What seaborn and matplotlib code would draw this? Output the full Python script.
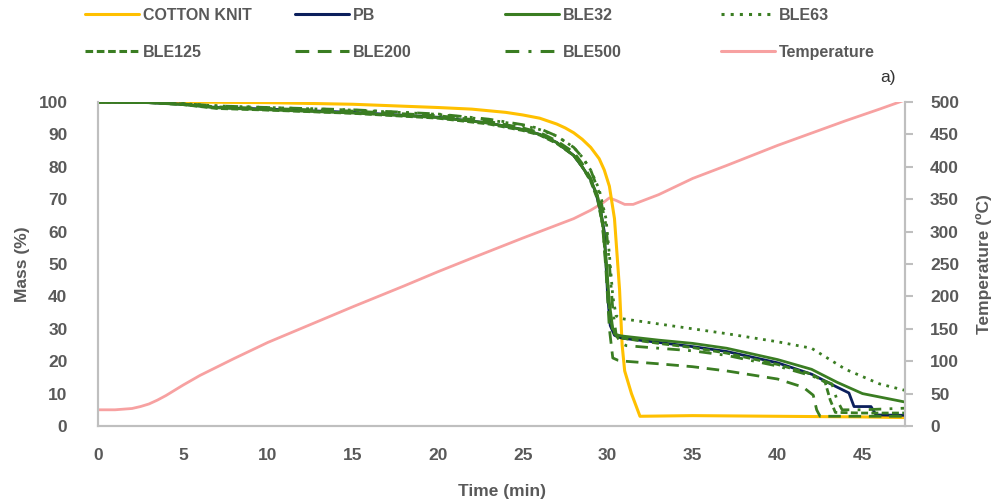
import numpy as np
import pandas as pd
import matplotlib
matplotlib.use("Agg")
import matplotlib.pyplot as plt
import seaborn as sns
from matplotlib.lines import Line2D

# ---------------- data ----------------
cotton_t = [0, 5, 10, 15, 20, 22, 24, 25, 26, 27, 27.5, 28, 28.5, 29, 29.5, 29.8, 30.1, 30.4, 30.7, 30.85, 31.0, 31.4, 31.9, 35, 40, 45, 47.5]
cotton_m = [100, 100, 99.8, 99.3, 98.3, 97.8, 96.8, 96, 95, 93.2, 92, 90.5, 88.5, 86, 82.5, 79, 74, 64, 42, 25, 17, 10, 3, 3.2, 3, 2.8, 2.6]

pb_t = [0, 3, 5, 7, 10, 15, 20, 23, 25, 26, 27, 28, 28.5, 29, 29.3, 29.6, 29.8, 30.0, 30.15, 30.4, 30.7, 31, 33, 35, 37, 40, 42, 43.5, 44.2, 44.5, 45.5, 45.8, 47.5]
pb_m = [100, 99.8, 99.3, 98.3, 97.8, 96.8, 95.3, 93.5, 91.5, 90, 87.5, 83.5, 80, 76, 72, 66, 60, 40, 31, 28, 27.3, 27, 25.8, 24.5, 23, 19.5, 16, 12, 10.2, 6, 6, 3.4, 3.3]

ble32_t = [0, 3, 5, 7, 10, 15, 20, 23, 25, 26, 27, 28, 28.5, 29, 29.4, 29.7, 29.9, 30.1, 30.3, 30.5, 30.8, 33, 35, 37, 40, 42, 43.5, 45, 47.5]
ble32_m = [100, 99.8, 99.2, 98.2, 97.6, 96.6, 95.2, 93.5, 91.5, 90, 87.5, 83.5, 80, 76, 71, 63, 52, 38, 30, 28.2, 27.8, 26.5, 25.5, 24, 20.5, 17.5, 13.5, 10, 7.4]

ble63_t = [0, 3, 5, 7, 10, 15, 20, 23, 25, 26, 27, 28, 28.5, 29, 29.5, 29.9, 30.1, 30.3, 30.5, 30.7, 31, 33, 35, 37, 40, 42, 44, 46, 47.5]
ble63_m = [100, 99.9, 99.5, 98.8, 98.3, 97.5, 96.2, 94.5, 92.8, 91.5, 89.5, 86, 83, 79, 73, 64, 53, 40, 34, 33.3, 33, 31.5, 30, 28.5, 26, 24, 17.5, 13, 11]

ble125_t = [0, 3, 5, 7, 10, 15, 20, 23, 25, 26, 27, 28, 28.5, 29, 29.4, 29.7, 29.9, 30.1, 30.3, 30.6, 31, 33, 35, 37, 40, 42, 42.8, 43.1, 43.4, 45, 47.5]
ble125_m = [100, 99.8, 99.2, 98, 97.5, 96.5, 95, 93.2, 91.2, 89.8, 87.2, 83.5, 80, 75.5, 70, 62, 50, 36, 29, 27.5, 27, 25.5, 24.2, 22.5, 19, 16, 13.5, 8, 4.2, 4, 4]

ble200_t = [0, 3, 5, 7, 10, 15, 20, 23, 25, 26, 27, 28, 28.5, 29, 29.4, 29.7, 29.9, 30.1, 30.3, 30.6, 31, 33, 35, 37, 40, 41.5, 42.1, 42.3, 42.5, 45, 47.5]
ble200_m = [100, 99.9, 99.4, 98.5, 98, 97.2, 95.8, 94, 92, 90.6, 88, 84.5, 81, 76.5, 71, 62, 48, 30, 21, 20.3, 20, 19.2, 18.3, 17, 14.5, 12, 9.5, 5, 3, 3, 3]

ble500_t = [0, 3, 5, 7, 10, 15, 20, 23, 25, 26, 27, 28, 28.5, 29, 29.5, 29.9, 30.1, 30.3, 30.5, 30.8, 31.1, 33, 35, 37, 40, 42, 43.2, 43.5, 43.8, 45, 47.5]
ble500_m = [100, 99.9, 99.5, 98.8, 98.3, 97.6, 96.3, 94.7, 93, 91.8, 89.5, 86, 83, 79, 72, 62, 50, 36, 28, 25.5, 24.8, 24, 23.2, 21.8, 18.5, 15.5, 13, 8, 5, 5, 5.5]

temp_t = [0, 1, 2, 2.5, 3, 3.5, 4, 5, 6, 8, 10, 12, 15, 18, 20, 22, 25, 27, 28, 29, 29.7, 30.1, 30.5, 31, 31.5, 32, 33, 35, 37, 40, 42, 44, 45, 46, 47.5]
temp_v = [25, 25, 27, 30, 34, 40, 47, 63, 78, 104, 129, 151, 184, 216, 238, 259, 290, 310, 320, 333, 344, 352, 348, 342, 342, 347, 357, 382, 402, 433, 452, 471, 480, 489, 503]

x_ticks = [0, 5, 10, 15, 20, 25, 30, 35, 40, 45]
y_ticks = [0, 10, 20, 30, 40, 50, 60, 70, 80, 90, 100]
t_ticks = [0, 50, 100, 150, 200, 250, 300, 350, 400, 450, 500]

# ---------------- style ----------------
sns.set_style("white")
plt.rcParams['font.family'] = ['Liberation Sans', 'DejaVu Sans']
GREY = "#595959"
SPINE = "#BFBFBF"
GREEN = "#3A7D22"

fig = plt.figure(figsize=(9.93, 5.03), dpi=100)
ax = fig.add_axes([98/993, 1-426/503, (905-98)/993, (426-102)/503])
ax2 = ax.twinx()

series = [
    ("COTTON KNIT", cotton_t, cotton_m, "#FFC000", "-", 2.2),
    ("PB", pb_t, pb_m, "#0B1F5C", "-", 2.0),
    ("BLE32", ble32_t, ble32_m, GREEN, "-", 2.0),
    ("BLE63", ble63_t, ble63_m, GREEN, (0, (1, 2)), 2.0),
    ("BLE125", ble125_t, ble125_m, GREEN, (0, (2.5, 1.2)), 2.0),
    ("BLE200", ble200_t, ble200_m, GREEN, (0, (4.5, 2.8)), 2.0),
    ("BLE500", ble500_t, ble500_m, GREEN, (0, (4.5, 3, 1, 3)), 2.0),
]

handles = {}
for name, t, m, c, ls, lw in series:
    df = pd.DataFrame({"t": t, "m": m})
    sns.lineplot(data=df, x="t", y="m", ax=ax, color=c, linestyle=ls, linewidth=lw,
                 sort=False, estimator=None, legend=False)
    handles[name] = Line2D([], [], color=c, linestyle=ls, linewidth=2.2)

dft = pd.DataFrame({"t": temp_t, "T": temp_v})
sns.lineplot(data=dft, x="t", y="T", ax=ax2, color="#F7A1A1", linewidth=2.0,
             sort=False, estimator=None, legend=False)
handles["Temperature"] = Line2D([], [], color="#F7A1A1", linewidth=2.2)
ax.set_zorder(ax2.get_zorder() + 1)
ax.patch.set_visible(False)

ax.set_xlim(0, 47.5)
ax.set_ylim(0, 100)
ax2.set_ylim(0, 500)
ax.set_xticks(x_ticks)
ax.set_yticks(y_ticks)
ax2.set_yticks(t_ticks)

for a in (ax, ax2):
    for s in a.spines.values():
        s.set_color(SPINE)
        s.set_linewidth(1.5)
    a.spines['top'].set_visible(False)

ax.tick_params(axis='x', length=0, pad=16, labelsize=12.5, labelcolor=GREY)
ax.tick_params(axis='y', length=0, pad=22, labelsize=12.5, labelcolor=GREY)
ax2.tick_params(axis='y', length=6, width=1.5, color=SPINE, pad=12, labelsize=12.5, labelcolor=GREY)
for lab in ax.get_xticklabels() + ax.get_yticklabels() + ax2.get_yticklabels():
    lab.set_fontweight('bold')

ax.set_xlabel("Time (min)", fontsize=12.5, fontweight='bold', color=GREY, labelpad=15)
ax.set_ylabel("Mass (%)", fontsize=12.5, fontweight='bold', color=GREY, labelpad=6)
ax2.set_ylabel("Temperature (ºC)", fontsize=12.5, fontweight='bold', color=GREY, labelpad=12)
ax.grid(False)
ax2.grid(False)

# legend: four columns placed individually
cols = [(85, ["COTTON KNIT", "BLE125"]), (295, ["PB", "BLE200"]),
        (505, ["BLE32", "BLE500"]), (721, ["BLE63", "Temperature"])]
for x0, names in cols:
    leg = fig.legend([handles[n] for n in names], names, loc='upper left',
                     bbox_to_anchor=(x0/993 - 0.008, 1.0), frameon=False,
                     handlelength=3.4, handletextpad=0.25, labelspacing=1.35,
                     borderaxespad=0.1, prop={'size': 11.5, 'weight': 'bold'})
    for txt in leg.get_texts():
        txt.set_color(GREY)

fig.text(880/993, 1-77/503, "a)", fontsize=12.5, color="#333333", ha='left', va='center')

fig.savefig("out.png", dpi=100)
